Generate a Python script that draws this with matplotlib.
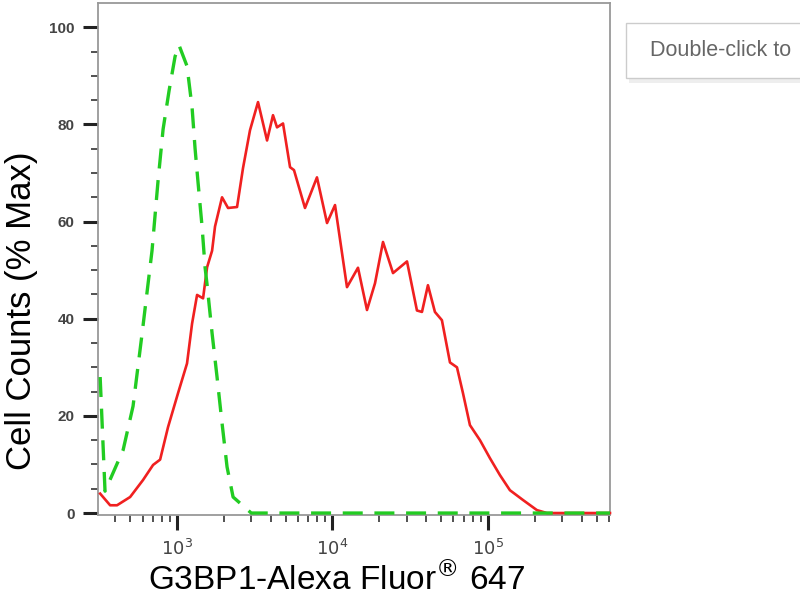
import math

import matplotlib
matplotlib.use("Agg")
import matplotlib.pyplot as plt
from matplotlib.patches import Rectangle
from matplotlib.ticker import LogLocator, NullFormatter, FixedLocator

plt.rcParams['font.family'] = ['Liberation Sans', 'DejaVu Sans']

# isotype control (green dashed)
iso_x = [320, 344, 450, 521, 596, 690, 755, 813, 889, 971, 1030, 1159, 1249,
         1306, 1365, 1448, 1514, 1560, 1680, 1808, 1947, 2097, 2293, 3000,
         10000, 100000, 610000]
iso_y = [28, 4.5, 13, 22, 37, 54, 68.5, 79, 87, 94, 96.3, 92, 83.5,
         75, 68, 59, 50.6, 47, 37, 28, 18.5, 9.5, 3.3, 0,
         0, 0, 0]

# G3BP1 stained sample (red solid)
g3_x = [320, 371, 411, 499, 604, 701, 778, 875, 1015, 1159, 1249, 1345, 1470,
        1560, 1680, 1755, 1947, 2128, 2432, 2656, 2946, 3318, 3793, 4142, 4397,
        4805, 5332, 5653, 6653, 7944, 9222, 10380, 12395, 14590, 16670, 18770,
        21130, 24510, 30150, 34940, 37640, 41120, 45600, 50570, 56990, 63210,
        69070, 76600, 88870, 103000, 119500, 138500, 167800, 206600, 239400,
        610000]
g3_y = [4, 1.6, 1.6, 3.3, 6.8, 9.9, 11, 17.7, 24.7, 30.8, 39, 44.9, 44.2,
        50.6, 54, 59, 65, 62.8, 63, 71, 78.8, 84.6, 76.7, 81.9, 79.4,
        80.2, 71.2, 70.6, 62.8, 69.1, 59.7, 63.4, 46.5, 50.5, 41.8, 47.3,
        55.8, 49.4, 51.8, 41.7, 41.4, 46.9, 41.4, 39.7, 31, 30,
        24.7, 18.1, 15, 11.3, 7.8, 4.7, 2.7, 0.6, 0,
        0]

y_major = [0, 20, 40, 60, 80, 100]

fig = plt.figure(figsize=(8, 6), dpi=100)
ax = fig.add_axes([0.1225, 0.1417, 0.64, 0.8533])

ax.plot(g3_x, g3_y, color='#f02020', lw=1.9, clip_on=False, zorder=3,
        solid_joinstyle='round')
ax.plot(iso_x, iso_y, color='#22cc22', lw=2.4, ls=(0, (6, 3.5)), clip_on=False, zorder=4)

ax.set_xscale('log')
ax.set_xlim(310, 610000)
ax.set_ylim(-0.4, 105)

ax.xaxis.set_major_locator(FixedLocator([1e3, 1e4, 1e5]))
ax.xaxis.set_major_formatter(plt.FuncFormatter(lambda v, p: r'$10^{%d}$' % round(math.log10(v))))
ax.xaxis.set_minor_locator(LogLocator(base=10, subs=range(2, 10), numticks=20))
ax.xaxis.set_minor_formatter(NullFormatter())
ax.set_yticks(y_major)
ax.set_yticks(range(0, 105, 5), minor=True)

ax.tick_params(which='major', direction='out', length=11, width=2.2, color='#222222',
               labelsize=11, labelcolor='#444444')
ax.tick_params(which='minor', direction='out', length=5, width=1.1, color='#222222')
ax.tick_params(axis='x', which='major', pad=6, labelsize=13)
ax.tick_params(axis='y', which='major', pad=6)
for lab in ax.get_yticklabels():
    lab.set_fontweight('bold')

for s in ax.spines.values():
    s.set_color('#999999')
    s.set_linewidth(1.3)

ax.set_xlabel('G3BP1-Alexa Fluor$^{\u00ae}$ 647', fontsize=24)
ax.set_ylabel('Cell Counts (% Max)', fontsize=25)
ax.xaxis.set_label_coords(0.467, -0.092)
ax.yaxis.set_label_coords(-0.118, 0.398)

# tooltip box at top right
fig.patches.append(Rectangle((0.786, 0.862), 0.3, 0.1, transform=fig.transFigure,
                             facecolor='#eeeeee', edgecolor='none', zorder=1))
fig.patches.append(Rectangle((0.7825, 0.87), 0.3, 0.092, transform=fig.transFigure,
                             facecolor='white', edgecolor='#cccccc', lw=1, zorder=2))
fig.text(0.8125, 0.916, 'Double-click to', fontsize=15.5, color='#666666',
         va='center', ha='left')

fig.savefig('out.png', dpi=100)
